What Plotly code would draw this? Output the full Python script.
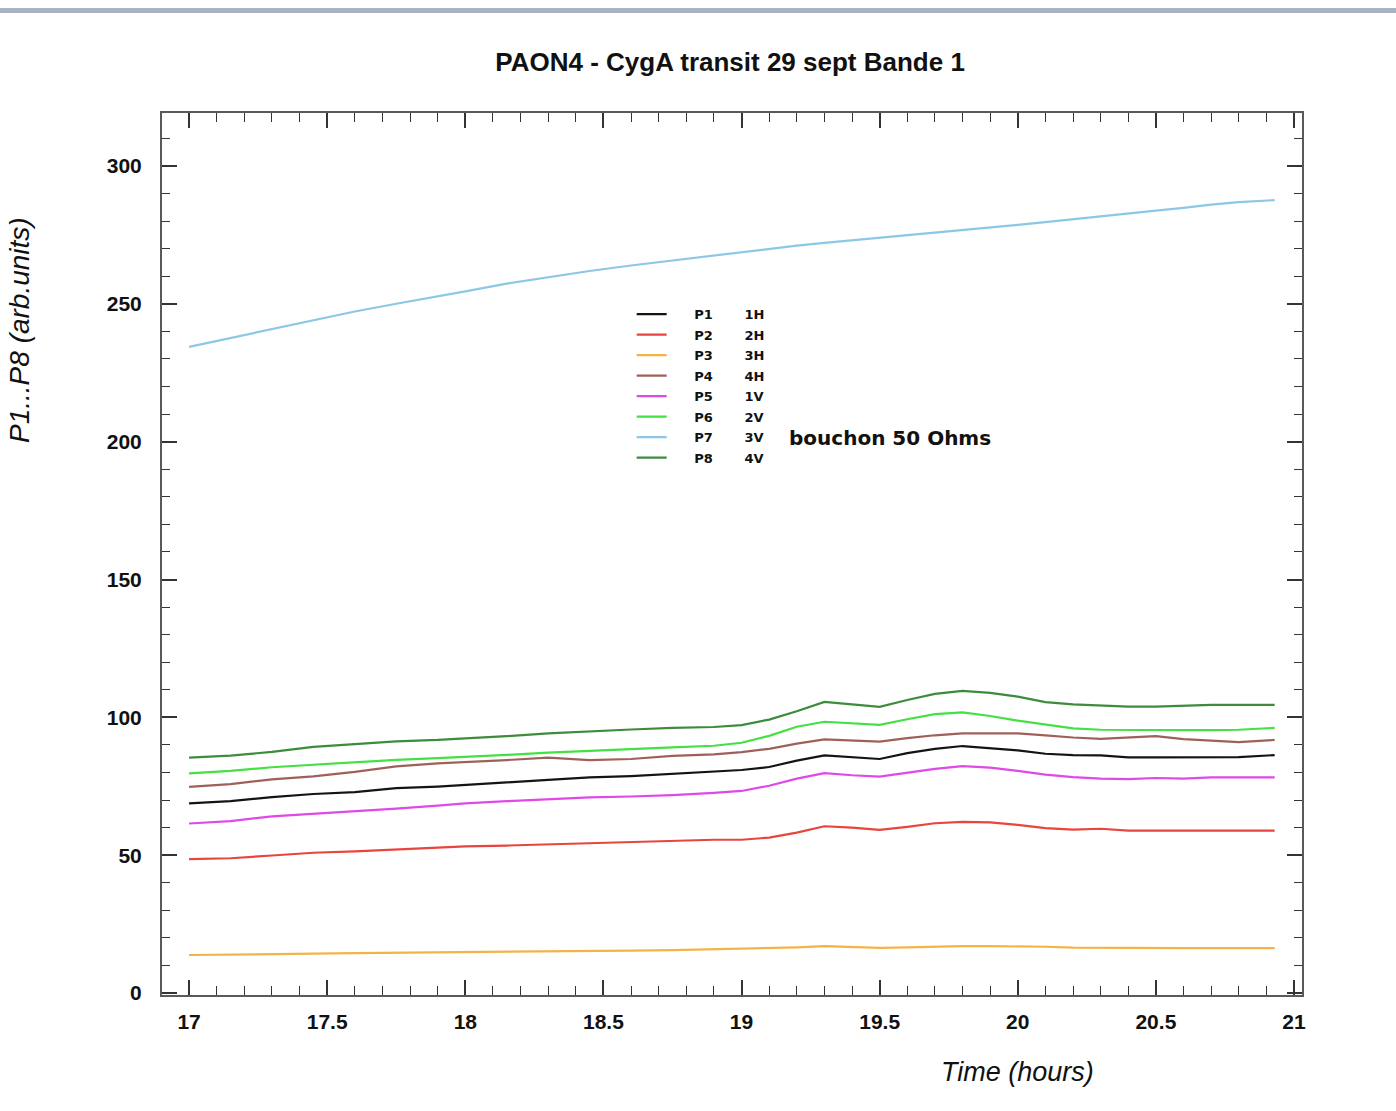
import plotly.graph_objects as go

# ---- data ----
time_h = [17.0, 17.15, 17.3, 17.45, 17.6, 17.75, 17.9, 18.0, 18.15, 18.3, 18.45, 18.6,
          18.75, 18.9, 19.0, 19.1, 19.2, 19.3, 19.4, 19.5, 19.6, 19.7, 19.8, 19.9,
          20.0, 20.1, 20.2, 20.3, 20.4, 20.5, 20.6, 20.7, 20.8, 20.93]

p1 = [68.8, 69.6, 71.1, 72.2, 72.9, 74.3, 74.9, 75.4, 76.4, 77.3, 78.2, 78.7,
      79.5, 80.3, 80.9, 82.0, 84.3, 86.2, 85.6, 84.9, 87.0, 88.6, 89.6, 88.8,
      88.0, 86.8, 86.3, 86.2, 85.5, 85.5, 85.5, 85.5, 85.6, 86.3]
p2 = [48.6, 48.9, 49.9, 50.9, 51.4, 52.0, 52.8, 53.2, 53.5, 53.9, 54.3, 54.9,
      55.3, 55.6, 55.6, 56.4, 58.2, 60.5, 60.0, 59.2, 60.3, 61.6, 62.1, 61.9,
      61.0, 59.8, 59.3, 59.6, 58.9, 58.9, 58.9, 58.9, 58.9, 58.9]
p3 = [13.8, 13.9, 14.2, 14.3, 14.5, 14.6, 14.8, 14.9, 15.0, 15.1, 15.2, 15.4,
      15.6, 15.9, 16.1, 16.3, 16.6, 17.0, 16.8, 16.4, 16.6, 16.9, 17.0, 17.0,
      17.0, 16.8, 16.5, 16.4, 16.4, 16.3, 16.3, 16.3, 16.3, 16.3]
p4 = [74.8, 75.8, 77.5, 78.6, 80.2, 82.2, 83.3, 83.7, 84.5, 85.4, 84.5, 84.9,
      86.0, 86.6, 87.4, 88.6, 90.5, 92.0, 91.6, 91.2, 92.5, 93.5, 94.2, 94.3,
      94.2, 93.5, 92.7, 92.2, 92.6, 93.2, 92.1, 91.5, 91.0, 91.8]
p5 = [61.5, 62.4, 64.1, 65.0, 66.0, 66.9, 68.0, 68.8, 69.6, 70.3, 71.0, 71.3,
      71.8, 72.6, 73.3, 75.2, 77.8, 79.8, 79.0, 78.5, 79.8, 81.3, 82.3, 81.8,
      80.6, 79.2, 78.3, 77.8, 77.6, 78.0, 77.8, 78.2, 78.2, 78.2]
p6 = [79.7, 80.6, 81.9, 82.8, 83.7, 84.6, 85.2, 85.6, 86.4, 87.2, 87.9, 88.5,
      89.1, 89.7, 90.8, 93.3, 96.6, 98.4, 97.8, 97.3, 99.3, 101.2, 101.8, 100.5,
      98.8, 97.4, 96.0, 95.5, 95.4, 95.4, 95.4, 95.4, 95.5, 96.2]
p7 = [234.4, 237.6, 240.8, 244.0, 247.2, 250.0, 252.6, 254.5, 257.3, 259.6, 261.9, 263.9,
      265.7, 267.5, 268.8, 270.0, 271.1, 272.1, 273.0, 273.9, 274.9, 275.9, 276.8, 277.7,
      278.6, 279.6, 280.7, 281.8, 282.8, 283.8, 284.8, 286.0, 286.9, 287.6]
p8 = [85.4, 86.1, 87.5, 89.3, 90.3, 91.3, 91.8, 92.3, 93.2, 94.2, 95.0, 95.6,
      96.2, 96.5, 97.2, 99.2, 102.2, 105.6, 104.7, 103.8, 106.3, 108.5, 109.6, 108.9,
      107.5, 105.5, 104.7, 104.2, 103.9, 103.9, 104.3, 104.5, 104.5, 104.5]

series_names = ["P1", "P2", "P3", "P4", "P5", "P6", "P7", "P8"]
series_pols = ["1H", "2H", "3H", "4H", "1V", "2V", "3V", "4V"]
series_values = [p1, p2, p3, p4, p5, p6, p7, p8]
series_colors = ["#141414", "#e8453c", "#f2b447", "#a0605a",
                 "#e048e8", "#44e044", "#8cc8e6", "#3c8c3c"]

x_ticks = [17, 17.5, 18, 18.5, 19, 19.5, 20, 20.5, 21]
y_ticks = [0, 50, 100, 150, 200, 250, 300]

NB = "\u00a0"
fig = go.Figure()
for i, (name, pol, vals, col) in enumerate(zip(series_names, series_pols, series_values, series_colors)):
    fig.add_trace(go.Scatter(
        x=time_h, y=vals, mode="lines",
        name=NB * 5 + name + NB * 7 + pol,
        legendgroup=name,
        line=dict(color=col, width=2.2),
    ))

axis_common = dict(
    showline=True, linecolor="#5a5a5a", linewidth=2, mirror="ticks",
    ticks="inside", ticklen=15, tickwidth=1.5, tickcolor="#333",
    showgrid=False, zeroline=False,
    tickfont=dict(family="Liberation Sans, Arial, sans-serif", size=21, color="#111", weight="bold"),
)

fig.update_xaxes(
    range=[16.902, 21.029], tickvals=x_ticks, ticktext=[f"{v:g}" for v in x_ticks],
    minor=dict(dtick=0.1, ticks="inside", ticklen=9, tickcolor="#333", tickwidth=1.2),
    ticklabelstandoff=7,
    **axis_common,
)
fig.update_yaxes(
    range=[-0.7, 319.2], tickvals=y_ticks,
    minor=dict(dtick=10, ticks="inside", ticklen=8, tickcolor="#333", tickwidth=1.2),
    ticklabelstandoff=14,
    **axis_common,
)

fig.update_layout(
    width=1396, height=1111,
    margin=dict(l=162, r=94, t=113, b=116),
    paper_bgcolor="white", plot_bgcolor="white",
    title=dict(text="<b>PAON4 - CygA transit 29 sept Bande 1</b>",
               x=0.523, xanchor="center", y=0.944, yanchor="middle",
               font=dict(family="Liberation Sans, Arial, sans-serif",
                         size=26, color="#111")),
    showlegend=True,
    legend=dict(x=0.412, y=0.789, xanchor="left", yanchor="top",
                bgcolor="rgba(0,0,0,0)", borderwidth=0,
                tracegroupgap=0.6,
                font=dict(family="DejaVu Sans, sans-serif", size=13, color="#111", weight="bold")),
    annotations=[
        dict(text="bouchon 50 Ohms", xref="paper", yref="paper",
             x=(787 - 162) / 1140, y=(995 - 438) / 882, xanchor="left", yanchor="middle",
             showarrow=False,
             font=dict(family="DejaVu Sans, sans-serif", size=20, color="#111", weight="bold")),
        dict(text="<i>Time (hours)</i>", xref="x", yref="paper",
             x=20.0, y=(995 - 1072) / 882, xanchor="center", yanchor="middle",
             showarrow=False,
             font=dict(family="Liberation Sans, Arial, sans-serif", size=27, color="#111")),
        dict(text="<i>P1...P8 (arb.units)</i>", xref="paper", yref="y",
             x=(20 - 162) / 1140, y=240.5, xanchor="center", yanchor="middle",
             textangle=-90, showarrow=False,
             font=dict(family="Liberation Sans, Arial, sans-serif", size=28, color="#111")),
    ],
    shapes=[
        dict(type="rect", xref="paper", yref="paper",
             x0=-162 / 1140, x1=(1396 - 162) / 1140,
             y0=(995 - 13) / 882, y1=(995 - 8) / 882,
             fillcolor="#a9b3c4", line=dict(width=0), layer="above"),
    ],
)

fig.write_html("out.html", config={"displayModeBar": False},
               post_script="document.body.style.margin='0px';")
